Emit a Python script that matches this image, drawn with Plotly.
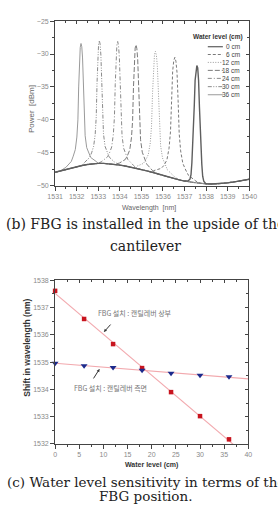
import plotly.graph_objects as go
import numpy as np

W, H = 278, 518

# ---------------- (b) spectrum data ----------------
BASE_WL = [1531.00, 1531.25, 1531.50, 1531.75, 1532.00, 1532.25, 1532.50, 1532.75,
           1533.00, 1533.25, 1533.50, 1533.75, 1534.00, 1534.25, 1534.50, 1534.75,
           1535.00, 1535.25, 1535.50, 1535.75, 1536.00, 1536.25, 1536.50, 1536.75,
           1537.00, 1537.25, 1537.50, 1537.75, 1538.00, 1538.25, 1538.50, 1538.75,
           1539.00, 1539.25, 1539.50, 1539.75, 1540.00]
BASE_DB = [-47.95, -47.72, -47.50, -47.30, -47.10, -46.92, -46.76, -46.66,
           -46.60, -46.60, -46.65, -46.74, -46.86, -47.00, -47.16, -47.33,
           -47.52, -47.73, -47.95, -48.20, -48.45, -48.68, -48.90, -49.10,
           -49.28, -49.43, -49.55, -49.64, -49.70, -49.72, -49.70, -49.64,
           -49.55, -49.44, -49.30, -49.15, -49.00]

LEVELS = ["0 cm", "6 cm", "12 cm", "18 cm", "24 cm", "30 cm", "36 cm"]

PEAK_WL_0 = [1537.17, 1537.25, 1537.30, 1537.34, 1537.38, 1537.42, 1537.45, 1537.49, 1537.53, 1537.57,
             1537.61, 1537.65, 1537.69, 1537.72, 1537.76, 1537.80, 1537.84, 1537.89, 1537.97]
PEAK_DB_0 = [-49.25, -49.0, -48.3, -46.5, -44.0, -40.9, -37.9, -33.95, -32.1, -31.75,
             -32.1, -34.0, -38.0, -41.0, -44.15, -46.75, -48.55, -49.3, -49.6]

PEAK_WL_6 = [1535.57, 1535.92, 1536.046, 1536.18, 1536.281, 1536.348, 1536.399, 1536.449, 1536.50, 1536.55,
             1536.60, 1536.651, 1536.701, 1536.752, 1536.819, 1536.92, 1537.054, 1537.18, 1537.53]
PEAK_DB_6 = [-47.7, -47.35, -46.9, -46.1, -44.3, -41.8, -36.8, -32.6, -31.0, -30.5,
             -31.1, -32.8, -37.05, -42.1, -44.7, -46.6, -47.6, -48.4, -49.3]

PEAK_WL_12 = [1534.775, 1535.09, 1535.20, 1535.32, 1535.41, 1535.47, 1535.515, 1535.56, 1535.605, 1535.65,
              1535.695, 1535.74, 1535.785, 1535.83, 1535.89, 1535.98, 1536.10, 1536.21, 1536.525]
PEAK_DB_12 = [-47.05, -46.6, -46.1, -45.25, -43.5, -40.9, -36.0, -31.7, -30.1, -29.6,
              -30.2, -31.9, -36.2, -41.2, -43.9, -45.8, -46.8, -47.6, -48.6]

PEAK_WL_18 = [1533.98, 1534.255, 1534.354, 1534.46, 1534.539, 1534.592, 1534.631, 1534.671, 1534.71, 1534.75,
              1534.79, 1534.829, 1534.869, 1534.908, 1534.961, 1535.04, 1535.146, 1535.245, 1535.52]
PEAK_DB_18 = [-46.55, -46.0, -45.4, -44.55, -42.7, -40.1, -35.1, -30.8, -29.1, -28.6,
              -29.2, -30.9, -35.2, -40.3, -43.0, -44.9, -45.9, -46.7, -47.7]

PEAK_WL_24 = [1533.165, 1533.43, 1533.522, 1533.623, 1533.698, 1533.749, 1533.787, 1533.824, 1533.862, 1533.90,
              1533.938, 1533.976, 1534.013, 1534.051, 1534.102, 1534.177, 1534.278, 1534.37, 1534.635]
PEAK_DB_24 = [-46.3, -45.6, -45.0, -44.1, -42.2, -39.6, -34.6, -30.3, -28.65, -28.1,
              -28.7, -30.4, -34.7, -39.8, -42.4, -44.3, -45.3, -46.0, -46.9]

PEAK_WL_30 = [1532.35, 1532.60, 1532.69, 1532.786, 1532.858, 1532.906, 1532.942, 1532.978, 1533.014, 1533.05,
              1533.086, 1533.122, 1533.158, 1533.194, 1533.242, 1533.314, 1533.41, 1533.50, 1533.75]
PEAK_DB_30 = [-46.5, -45.7, -45.0, -44.0, -42.2, -39.5, -34.5, -30.2, -28.5, -27.95,
              -28.5, -30.2, -34.5, -39.5, -42.1, -44.0, -44.9, -45.6, -46.4]

PEAK_WL_36 = [1531.50, 1531.75, 1531.84, 1531.936, 1532.008, 1532.056, 1532.092, 1532.128, 1532.164, 1532.20,
              1532.236, 1532.272, 1532.308, 1532.344, 1532.392, 1532.464, 1532.56, 1532.65, 1532.90]
PEAK_DB_36 = [-47.2, -46.3, -45.5, -44.5, -42.6, -40.0, -35.0, -30.7, -29.0, -28.4,
              -28.9, -30.6, -34.8, -39.8, -42.4, -44.2, -45.1, -45.7, -46.3]

PEAKS_WL = [PEAK_WL_0, PEAK_WL_6, PEAK_WL_12, PEAK_WL_18, PEAK_WL_24, PEAK_WL_30, PEAK_WL_36]
PEAKS_DB = [PEAK_DB_0, PEAK_DB_6, PEAK_DB_12, PEAK_DB_18, PEAK_DB_24, PEAK_DB_30, PEAK_DB_36]

X_TICKS_B = [1531, 1532, 1533, 1534, 1535, 1536, 1537, 1538, 1539, 1540]
Y_TICKS_B = [-50, -45, -40, -35, -30, -25]

# ---------------- (c) sensitivity data ----------------
LEVEL_CM = [0, 6, 12, 18, 24, 30, 36]
UPSIDE_NM = [1537.61, 1536.58, 1535.66, 1534.78, 1533.90, 1533.02, 1532.17]
SIDE_NM = [1534.96, 1534.87, 1534.80, 1534.70, 1534.59, 1534.52, 1534.46]
X_TICKS_C = [0, 5, 10, 15, 20, 25, 30, 35, 40]
Y_TICKS_C = [1532, 1533, 1534, 1535, 1536, 1537, 1538]

# ---------------- styles ----------------
STYLE = {
    "0 cm": dict(color="#5e5e5e", width=1.4, dash="solid"),
    "6 cm": dict(color="#7a7a7a", width=1.0, dash="3px,2px"),
    "12 cm": dict(color="#9a9a9a", width=1.0, dash="1px,1.5px"),
    "18 cm": dict(color="#7a7a7a", width=1.0, dash="5px,2px"),
    "24 cm": dict(color="#8a8a8a", width=1.0, dash="4px,2px,1px,2px"),
    "30 cm": dict(color="#8a8a8a", width=1.0, dash="4px,1.5px,1px,1.5px,1px,1.5px"),
    "36 cm": dict(color="#9a9a9a", width=1.0, dash="solid"),
}
FONT = "Liberation Sans, Arial, sans-serif"
SERIF = "DejaVu Serif, serif"
AX = "#444444"
TICKC = "#8a8a8a"


def px(x):
    return x / W


def py(y):
    return 1 - y / H


def full_curve(pw, pd):
    lo, hi = pw[0], pw[-1]
    xs = [w for w in BASE_WL if w < lo] + list(pw) + [w for w in BASE_WL if w > hi]
    ys = ([d for w, d in zip(BASE_WL, BASE_DB) if w < lo] + list(pd)
          + [d for w, d in zip(BASE_WL, BASE_DB) if w > hi])
    return xs, ys


fig = go.Figure()

draw_order = [6, 5, 4, 3, 2, 1, 0]
for i in draw_order:
    xs, ys = full_curve(PEAKS_WL[i], PEAKS_DB[i])
    fig.add_trace(go.Scatter(x=xs, y=ys, mode="lines", name=LEVELS[i], showlegend=False,
                             line=STYLE[LEVELS[i]], xaxis="x", yaxis="y", hoverinfo="skip"))

# fits computed from data
lv = np.array(LEVEL_CM, dtype=float)
fit_x = np.array([X_TICKS_C[0], X_TICKS_C[-1]], dtype=float)
for series in (UPSIDE_NM, SIDE_NM):
    k, b = np.polyfit(lv, np.array(series), 1)
    fig.add_trace(go.Scatter(x=fit_x, y=k * fit_x + b, mode="lines", showlegend=False,
                             line=dict(color="#f2a9ae", width=1.1), xaxis="x2", yaxis="y2",
                             hoverinfo="skip"))

fig.add_trace(go.Scatter(x=LEVEL_CM, y=UPSIDE_NM, mode="markers", name="upside", showlegend=False,
                         marker=dict(symbol="square", size=4.5, color="#c8141e"),
                         xaxis="x2", yaxis="y2", cliponaxis=False))
fig.add_trace(go.Scatter(x=LEVEL_CM, y=SIDE_NM, mode="markers", name="side", showlegend=False,
                         marker=dict(symbol="triangle-down", size=6, color="#1c2a8c"),
                         xaxis="x2", yaxis="y2", cliponaxis=False))

# empty traces to register the mirrored tick axes
fig.add_trace(go.Scatter(x=[], y=[], xaxis="x3", yaxis="y3", showlegend=False))
fig.add_trace(go.Scatter(x=[], y=[], xaxis="x4", yaxis="y4", showlegend=False))

dom_xb = [px(50), px(256)]
dom_yb = [py(184.3), py(17.3)]
dom_xc = [px(50), px(255)]
dom_yc = [py(446), py(280)]


def main_axis(rng, dom, anchor, tick0, dtick, mdtick, tickvals):
    return dict(range=rng, domain=dom, anchor=anchor, showgrid=False, zeroline=False,
                showline=True, linecolor=AX, linewidth=1, mirror=True,
                ticks="outside", ticklen=4, tickwidth=1, tickcolor=AX,
                tickvals=tickvals, tickfont=dict(family=FONT, size=7, color=TICKC),
                minor=dict(ticks="outside", ticklen=2, tickcolor=AX, tick0=tick0, dtick=mdtick),
                fixedrange=True)


def mirror_axis(rng, overlay, side, anchor, tick0, dtick, mdtick):
    return dict(range=rng, overlaying=overlay, side=side, anchor=anchor, showgrid=False,
                zeroline=False, showline=False, showticklabels=False,
                ticks="inside", ticklen=3, tickcolor=AX, tick0=tick0, dtick=dtick,
                minor=dict(ticks="inside", ticklen=2, tickcolor=AX, tick0=tick0, dtick=mdtick),
                fixedrange=True)


annotations = []


def txt(t, x, y, size, color="#555", bold=False, angle=0, family=FONT, xanchor="center"):
    if bold:
        t = "<b>" + t + "</b>"
    annotations.append(dict(text=t, x=px(x), y=py(y), xref="paper", yref="paper",
                            showarrow=False, xanchor=xanchor, yanchor="middle",
                            textangle=angle, font=dict(family=family, size=size, color=color)))


# axis titles
txt("Power  [dBm]", 25, 107, 8, color="#666", angle=-90)
txt("Wavelength  [nm]", 150, 206.7, 7, color="#666")
txt("Shift in wavelength (nm)", 20.7, 349, 8.5, color="#333", bold=True, angle=-90)
txt("Water level (cm)", 152.5, 467.7, 7, color="#333", bold=True)

# captions
txt("(b) FBG is installed in the upside of the", 146, 222.7, 14, color="#222", family=SERIF)
txt("cantilever", 146, 245.3, 14, color="#222", family=SERIF)
txt("(c) Water level sensitivity in terms of the", 146, 484.3, 13.5, color="#222", family=SERIF)
txt("FBG position.", 146, 499, 13.5, color="#222", family=SERIF)

# annotations in (c)
KR = "Noto Sans CJK KR, sans-serif"
txt("FBG 설치 : 캔틸레버 상부", 135, 313, 7, color="#777", family=KR)
txt("FBG 설치 : 캔틸레버 측면", 109, 389, 7, color="#777", family=KR)
annotations.append(dict(x=10.1, y=1536.1, xref="x2", yref="y2", ax=8, ay=-9, text="",
                        showarrow=True, arrowhead=2, arrowsize=0.6, arrowwidth=1, arrowcolor="#333"))
annotations.append(dict(x=9.2, y=1534.75, xref="x2", yref="y2", ax=-7, ay=11, text="",
                        showarrow=True, arrowhead=2, arrowsize=0.6, arrowwidth=1, arrowcolor="#333"))

# manual legend for (b)
shapes = []
txt("Water level (cm)", 251, 33.3, 6.5, color="#333", bold=True, xanchor="right")
LEG_Y = [43.3, 51.2, 59.2, 67.3, 75.4, 83.8, 92.0]
for lab, yy in zip(LEVELS, LEG_Y):
    st = STYLE[lab]
    shapes.append(dict(type="line", xref="paper", yref="paper", x0=px(212), x1=px(228),
                       y0=py(yy), y1=py(yy),
                       line=dict(color=st["color"], width=min(st["width"], 1.2), dash=st["dash"])))
    txt(lab, 248, yy, 6.5, color="#444", xanchor="right")

fig.update_layout(
    width=W, height=H, margin=dict(l=0, r=0, t=0, b=0),
    paper_bgcolor="white", plot_bgcolor="white", showlegend=False,
    xaxis=main_axis([1531, 1540], dom_xb, "y", 1531, 1, 0.5, X_TICKS_B),
    yaxis=main_axis([-50, -25], dom_yb, "x", -50, 5, 2.5, Y_TICKS_B),
    xaxis2=main_axis([0, 40], dom_xc, "y2", 0, 5, 2.5, X_TICKS_C),
    yaxis2=main_axis([1532, 1538], dom_yc, "x2", 1532, 1, 0.5, Y_TICKS_C),
    xaxis3=mirror_axis([1531, 1540], "x", "top", "y", 1531, 1, 0.5),
    yaxis3=mirror_axis([-50, -25], "y", "right", "x", -50, 5, 2.5),
    xaxis4=mirror_axis([0, 40], "x2", "top", "y2", 0, 5, 2.5),
    yaxis4=mirror_axis([1532, 1538], "y2", "right", "x2", 1532, 1, 0.5),
    annotations=annotations, shapes=shapes,
)

fig.write_html("out.html")
